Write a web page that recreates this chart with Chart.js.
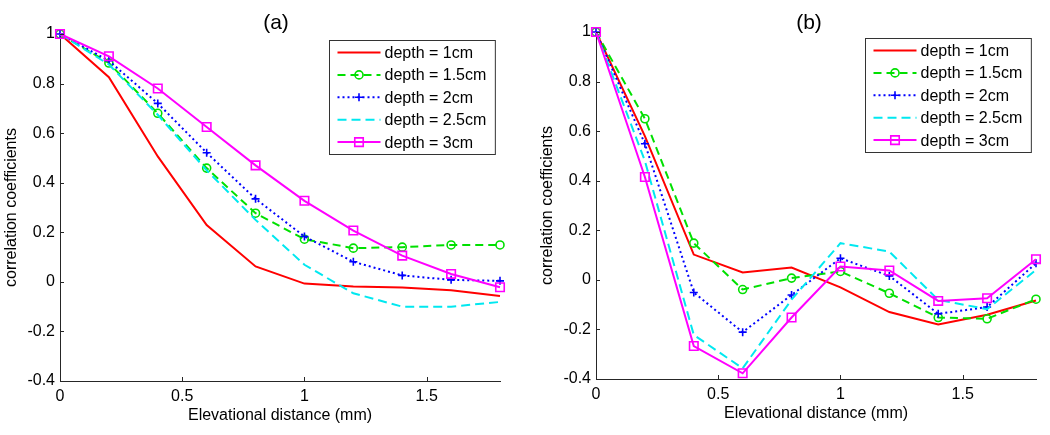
<!DOCTYPE html>
<html><head><meta charset="utf-8">
<script src="https://cdn.jsdelivr.net/npm/chart.js@4.4.0/dist/chart.umd.min.js"></script>
<style>
html,body{margin:0;padding:0;background:#fff;}
#wrap{position:relative;width:1050px;height:435px;overflow:hidden;}
.panel{position:absolute;top:0;width:525px;height:435px;}
</style></head><body>
<div id="wrap">
<div class="panel" style="left:0"><canvas id="ca" width="525" height="435"></canvas></div>
<div class="panel" style="left:525px"><canvas id="cb" width="525" height="435"></canvas></div>
</div>
<script>
// ---- data ----
const distances = [0, 0.2, 0.4, 0.6, 0.8, 1.0, 1.2, 1.4, 1.6, 1.8];
const xTicks = [0, 0.5, 1, 1.5];
const yTicks = [-0.4, -0.2, 0, 0.2, 0.4, 0.6, 0.8, 1];
const seriesNames = ['depth = 1cm', 'depth = 1.5cm', 'depth = 2cm', 'depth = 2.5cm', 'depth = 3cm'];
const panelTitles = ['(a)', '(b)'];
const xTitle = 'Elevational distance (mm)';
const yTitle = 'correlation coefficients';

const a_1cm  = [1, 0.826, 0.506, 0.229, 0.062, -0.007, -0.019, -0.023, -0.034, -0.057];
const a_15cm = [1, 0.883, 0.680, 0.459, 0.277, 0.172, 0.136, 0.140, 0.149, 0.149];
const a_2cm  = [1, 0.892, 0.720, 0.521, 0.335, 0.183, 0.081, 0.026, 0.008, 0.004];
const a_25cm = [1, 0.877, 0.674, 0.450, 0.250, 0.069, -0.046, -0.100, -0.100, -0.081];
const a_3cm  = [1, 0.910, 0.780, 0.625, 0.470, 0.327, 0.207, 0.106, 0.032, -0.022];

const b_1cm  = [1, 0.580, 0.102, 0.030, 0.050, -0.030, -0.130, -0.180, -0.141, -0.083];
const b_15cm = [1, 0.650, 0.148, -0.039, 0.007, 0.034, -0.054, -0.152, -0.157, -0.078];
const b_2cm  = [1, 0.549, -0.051, -0.211, -0.061, 0.087, 0.016, -0.137, -0.110, 0.067];
const b_25cm = [1, 0.480, -0.222, -0.357, -0.080, 0.148, 0.114, -0.081, -0.118, 0.040];
const b_3cm  = [1, 0.415, -0.267, -0.377, -0.152, 0.054, 0.038, -0.085, -0.074, 0.083];

// ---- styles ----
const FONT = '"Liberation Sans", Arial, Helvetica, sans-serif';
Chart.defaults.font.family = FONT;
Chart.defaults.font.size = 16;
Chart.defaults.color = '#000';
const AXIS = '#262626';
const styles = [
  {color:'#ff0000', dash:[], ps:false, r:0},
  {color:'#00e000', dash:[8,5], ps:'circle', r:4},
  {color:'#0000ff', dash:[2,3], ps:'cross', r:4},
  {color:'#00e8f0', dash:[9,5], ps:false, r:0},
  {color:'#ff00ff', dash:[], ps:'rect', r:6}
];

function makeDatasets(seriesList){
  return seriesList.map((ys,i)=>({
    label: seriesNames[i],
    data: distances.map((x,k)=>({x:x, y:ys[k]})),
    borderColor: styles[i].color,
    backgroundColor: 'rgba(0,0,0,0)',
    borderWidth: 2,
    borderDash: styles[i].dash,
    pointStyle: styles[i].ps,
    pointRadius: styles[i].r,
    pointBorderWidth: 1.6,
    pointBorderColor: styles[i].color,
    pointBackgroundColor: 'rgba(0,0,0,0)',
    tension: 0,
    clip: false,
    order: seriesList.length - 1 - i
  }));
}

const decorPlugin = {
  id:'decor',
  afterDraw(chart, args, opts){
    const ctx = chart.ctx, ca = chart.chartArea;
    const xs = chart.scales.x, ys = chart.scales.y;
    ctx.save();
    // inward tick marks
    ctx.strokeStyle = AXIS; ctx.lineWidth = 1; ctx.setLineDash([]);
    ctx.beginPath();
    xs.ticks.forEach(t=>{ const px = Math.round(xs.getPixelForValue(t.value))+0.5; ctx.moveTo(px, ca.bottom); ctx.lineTo(px, ca.bottom-4); });
    ys.ticks.forEach(t=>{ const py = Math.round(ys.getPixelForValue(t.value))+0.5; ctx.moveTo(ca.left, py); ctx.lineTo(ca.left+4, py); });
    ctx.stroke();
    // title
    ctx.fillStyle = '#000';
    ctx.font = '21px ' + FONT;
    ctx.textAlign = 'center'; ctx.textBaseline = 'middle';
    ctx.fillText(opts.title, (ca.left+ca.right)/2 + opts.titleDx, 23);
    // legend
    ctx.font = '16px ' + FONT;
    const ds = chart.data.datasets;
    const textW = Math.max(...ds.map(d=>ctx.measureText(d.label).width));
    const w = 8 + 43 + 4 + textW + 9, h = 114;
    const x0 = Math.round(ca.right - 5 - w) + 0.5, y0 = Math.round(ca.top + 6) + 0.5;
    ctx.fillStyle = '#fff';
    ctx.fillRect(x0, y0, w, h);
    ctx.strokeStyle = '#333'; ctx.lineWidth = 1;
    ctx.strokeRect(x0, y0, w, h);
    ds.forEach((d,i)=>{
      const cy = y0 + 12 + i*22.4;
      ctx.strokeStyle = d.borderColor; ctx.lineWidth = d.borderWidth;
      ctx.setLineDash(d.borderDash);
      ctx.beginPath(); ctx.moveTo(x0+8, cy); ctx.lineTo(x0+51, cy); ctx.stroke();
      ctx.setLineDash([]);
      if (d.pointStyle){
        ctx.strokeStyle = d.pointBorderColor; ctx.fillStyle = 'rgba(0,0,0,0)';
        ctx.lineWidth = d.pointBorderWidth;
        Chart.helpers.drawPoint(ctx, {pointStyle:d.pointStyle, radius:d.pointRadius, borderWidth:d.pointBorderWidth, rotation:0}, x0+29.5, cy);
      }
      ctx.fillStyle = '#000'; ctx.textAlign = 'left'; ctx.textBaseline = 'middle';
      ctx.fillText(d.label, x0+55, cy+1);
    });
    ctx.restore();
  }
};

function makeChart(id, seriesList, title, padLeft, padTop, padBottom, titleDx){
  return new Chart(document.getElementById(id), {
    type:'line',
    data:{ datasets: makeDatasets(seriesList) },
    options:{
      responsive:false, animation:false,
      layout:{ padding:{ left:padLeft, right: 525 - padLeft - 60 - 440, top:padTop, bottom:padBottom } },
      plugins:{ legend:{display:false}, tooltip:{enabled:false}, decor:{title:title, titleDx:titleDx} },
      scales:{
        x:{
          type:'linear', min:0, max:1.8,
          afterBuildTicks: s=>{ s.ticks = xTicks.map(v=>({value:v})); },
          afterFit: s=>{ s.height = 54; },
          ticks:{ padding:6, maxRotation:0, callback: v=>String(Math.round(v*10)/10) },
          grid:{ display:true, drawOnChartArea:false, drawTicks:false },
          border:{ display:true, color:AXIS, width:1 },
          title:{ display:true, text:xTitle, padding:{top:0,bottom:9.5} }
        },
        y:{
          type:'linear', min:-0.4, max:1,
          afterBuildTicks: s=>{ s.ticks = yTicks.map(v=>({value:v})); },
          afterFit: s=>{ s.width = 60; },
          ticks:{ padding:5, callback: v=>String(Math.round(v*10)/10) },
          grid:{ display:true, drawOnChartArea:false, drawTicks:false },
          border:{ display:true, color:AXIS, width:1 },
          title:{ display:true, text:yTitle, padding:{top:2.4,bottom:0} }
        }
      }
    },
    plugins:[decorPlugin]
  });
}

makeChart('ca', [a_1cm, a_15cm, a_2cm, a_25cm, a_3cm], panelTitles[0], 0, 34, 0, -4);
makeChart('cb', [b_1cm, b_15cm, b_2cm, b_25cm, b_3cm], panelTitles[1], 11, 32, 2, -7);
</script>
</body></html>
